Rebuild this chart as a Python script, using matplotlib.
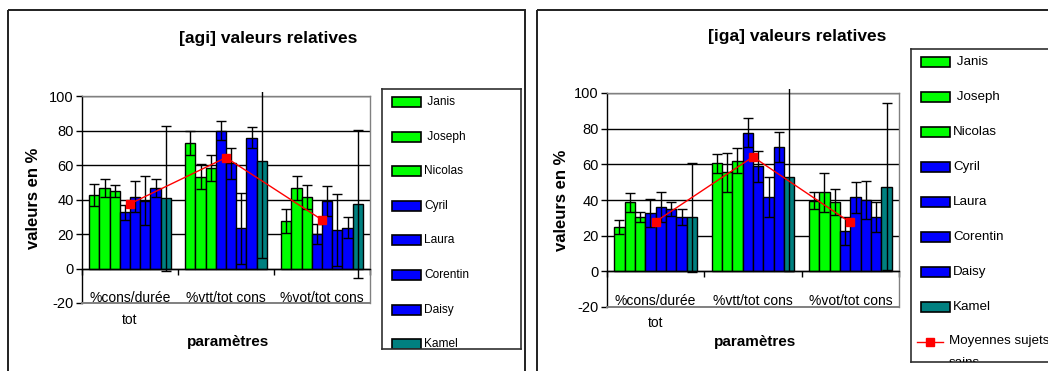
import numpy as np
import matplotlib
matplotlib.use("Agg")
import matplotlib.pyplot as plt
import matplotlib.transforms as mtransforms
from matplotlib.patches import Rectangle

plt.rcParams["axes.unicode_minus"] = False

# ---------- data ----------
categories = ["%cons/durée\ntot", "%vtt/tot cons", "%vot/tot cons"]
sujets = [" Janis", " Joseph", "Nicolas", "Cyril", "Laura", "Corentin", "Daisy", "Kamel"]
moy_label = "Moyennes sujets\nsains"

# [agi] : one row per subject, one column per category
agi_vals = [
    [42.7, 72.6, 27.6],
    [46.5, 53.3, 46.5],
    [45.0, 58.1, 41.3],
    [32.6, 80.0, 19.9],
    [41.7, 61.0, 39.2],
    [39.4, 23.2, 22.4],
    [46.5, 75.9, 23.7],
    [40.7, 62.4, 37.5],
]
agi_err = [
    [6.5, 7.0, 7.0],
    [5.2, 7.0, 7.0],
    [3.5, 7.5, 7.0],
    [4.3, 5.7, 5.8],
    [9.0, 9.0, 8.7],
    [14.0, 20.5, 21.0],
    [5.2, 6.0, 6.0],
    [42.0, 56.4, 43.0],
]
agi_moy = [37.5, 64.3, 28.2]

# [iga]
iga_vals = [
    [24.8, 60.5, 39.7],
    [38.7, 55.5, 44.3],
    [30.4, 62.0, 38.7],
    [32.6, 77.8, 22.7],
    [36.3, 59.0, 41.5],
    [34.8, 41.5, 40.0],
    [30.4, 69.8, 30.4],
    [30.4, 53.1, 47.5],
]
iga_err = [
    [4.0, 5.2, 4.7],
    [5.5, 11.0, 11.0],
    [2.6, 7.0, 7.3],
    [8.0, 8.0, 8.0],
    [8.4, 8.7, 8.6],
    [4.0, 11.3, 10.6],
    [4.5, 8.6, 8.6],
    [30.5, 53.0, 47.0],
]
iga_moy = [27.9, 64.2, 27.4]

# ---------- style ----------
W, H = 1048, 371
GREEN = "#00FF00"
BLUE = "#0000FF"
TEAL = "#008080"
bar_colors = [GREEN, GREEN, GREEN, BLUE, BLUE, BLUE, BLUE, TEAL]
FONT = ["Liberation Sans", "DejaVu Sans"]
GRAY = "#808080"

fig = plt.figure(figsize=(W / 100, H / 100), dpi=100)
fig.patch.set_facecolor("white")

bg = fig.add_axes([0, 0, 1, 1])
bg.set_xlim(0, W)
bg.set_ylim(H, 0)
bg.axis("off")


def px_axes(x0, y0, x1, y1):
    return fig.add_axes([x0 / W, 1 - y1 / H, (x1 - x0) / W, (y1 - y0) / H])


def draw_chart(panel, plot_box, leg_box, title, title_xy, ylab_xy, xlab_xy,
               vals, errs, moy, leg_fs, leg_step):
    px0, py0, px1 = panel
    bg.add_patch(Rectangle((px0, py0), px1 - px0, H + 20 - py0, fill=False,
                           edgecolor="#202020", linewidth=1.4, clip_on=False))
    bg.text(title_xy[0], title_xy[1], title, ha="center", va="center",
            fontsize=12.5, fontweight="bold", family=FONT)
    bg.text(ylab_xy[0], ylab_xy[1], "valeurs en %", ha="center", va="center",
            rotation=90, fontsize=12, fontweight="bold", family=FONT)
    bg.text(xlab_xy[0], xlab_xy[1], "paramètres", ha="center", va="center",
            fontsize=11, fontweight="bold", family=FONT)

    ax = px_axes(*plot_box)
    ax.set_facecolor("white")
    n = len(sujets)
    bw = 0.85 / n
    xs = np.arange(len(categories))
    clip = Rectangle((-0.05, -0.2), 1.1, 1.22, transform=ax.transAxes,
                     fill=False, visible=False)
    ax.add_patch(clip)
    for i, name in enumerate(sujets):
        x = xs + (i - (n - 1) / 2) * bw
        ax.bar(x, vals[i], width=bw, color=bar_colors[i], edgecolor="black",
               linewidth=1, zorder=2)
        eb = ax.errorbar(x, vals[i], yerr=errs[i], fmt="none", ecolor="black",
                         elinewidth=1, capsize=3.5, capthick=1, zorder=3)
        for art in list(eb.lines[1]) + list(eb.lines[2]):
            art.set_clip_path(clip)
    ax.plot(xs, moy, color="red", lw=1, marker="s", markersize=6, zorder=5)

    ax.set_xlim(-0.5, len(categories) - 0.5)
    ax.set_ylim(-20, 100)
    ax.set_yticks(range(-20, 101, 20))
    ax.set_axisbelow(True)
    ax.yaxis.grid(True, color="black", linewidth=1)
    ax.tick_params(axis="y", direction="out", length=4, width=1,
                   labelsize=10.5, pad=2)
    for lab in ax.get_yticklabels():
        lab.set_family(FONT)

    ax.spines["bottom"].set_position(("data", 0))
    ax.spines["bottom"].set_color("black")
    ax.spines["left"].set_color("black")
    for s in ("top", "right"):
        ax.spines[s].set_color(GRAY)
    for sp in ax.spines.values():
        sp.set_linewidth(1)
    ax.axhline(-20, color=GRAY, lw=1.4, zorder=4, clip_on=False)

    ax.set_xticks(np.arange(len(categories) + 1) - 0.5)
    ax.set_xticklabels([])
    ax.tick_params(axis="x", which="major", direction="out", length=4, width=1)
    ax.set_xticks(xs, minor=True)
    ax.set_xticklabels(categories, minor=True, fontsize=10, family=FONT,
                       linespacing=1.75)
    ax.tick_params(axis="x", which="minor", length=0, pad=16)

    # legend box
    lx0, ly0, lx1, ly1 = leg_box
    lh = ly1 - ly0
    lg = px_axes(*leg_box)
    lg.set_xlim(0, lx1 - lx0)
    lg.set_ylim(lh, 0)
    lg.set_xticks([])
    lg.set_yticks([])
    for sp in lg.spines.values():
        sp.set_color("#303030")
        sp.set_linewidth(1.2)
    for i, name in enumerate(sujets):
        y = 13 + i * leg_step
        lg.add_patch(Rectangle((10, y - 5), 29, 10, facecolor=bar_colors[i],
                               edgecolor="black", linewidth=1.2))
        lg.text(42, y, name, ha="left", va="center", fontsize=leg_fs,
                family=FONT, clip_on=True)
    y = 13 + n * leg_step
    if y - 8 < lh:
        lg.plot([6, 32], [y, y], color="red", lw=1, clip_on=True)
        lg.plot([19], [y], color="red", marker="s", markersize=6, clip_on=True)
        lg.text(38, y, moy_label, ha="left", va="top", fontsize=leg_fs,
                family=FONT, clip_on=True, linespacing=2.1,
                transform=lg.transData + mtransforms.ScaledTranslation(
                    0, 7 / 100, fig.dpi_scale_trans))


draw_chart((8, 10, 525), (82, 96, 370, 303), (382, 89, 521, 349),
           "[agi] valeurs relatives", (268, 38), (33, 198), (228, 342),
           agi_vals, agi_err, agi_moy, 8.6, 34.6)
draw_chart((537, 10, 1060), (607, 93, 899, 307), (911, 49, 1060, 362),
           "[iga] valeurs relatives", (797, 37), (561, 200), (755, 342),
           iga_vals, iga_err, iga_moy, 9.6, 35.0)

fig.savefig("out.png", dpi=100)
